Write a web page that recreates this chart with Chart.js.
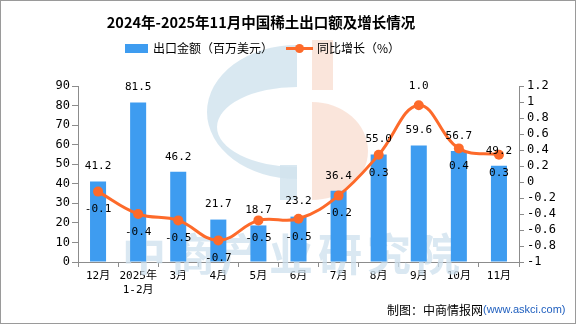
<!DOCTYPE html>
<html>
<head>
<meta charset="utf-8">
<script src="https://cdn.jsdelivr.net/npm/chart.js@4"></script>
<style>
  html, body { margin: 0; padding: 0; background: #fff; }
  #wrap { width: 576px; height: 324px; }
</style>
</head>
<body>
<div id="wrap"><canvas id="myChart" width="576" height="324"></canvas></div>
<script>
// data
const categories = ['12月', ['2025年', '1-2月'], '3月', '4月', '5月', '6月', '7月', '8月', '9月', '10月', '11月']
const exportValues = [41.2, 81.5, 46.2, 21.7, 18.7, 23.2, 36.4, 55.0, 59.6, 56.7, 49.2]
const growthRates = [-0.12, -0.40, -0.48, -0.73, -0.48, -0.46, -0.17, 0.34, 0.96, 0.42, 0.34]
const leftTicks = { min: 0, max: 90, step: 10 }
const rightTicks = { min: -1, max: 1.2, step: 0.2 }

const BAR = '#3e9cf0'
const LINE = '#fd6a2a'
const AXIS = '#8c8c8c'
const CJK = '"Noto Sans CJK SC", sans-serif'
const NUM = '"DejaVu Sans Mono", "Noto Sans CJK SC", monospace'

// faint logo + company name behind the plot
const watermark = {
    id: 'watermark',
    beforeDatasetsDraw(chart) {
        const c = chart.ctx
        c.save()
        // blue "C"
        c.beginPath()
        c.rect(190, 30, 107, 180)
        c.clip()
        c.fillStyle = 'rgba(210,228,239,0.85)'
        c.beginPath()
        c.ellipse(297, 112, 90, 67, 0, 0, Math.PI * 2)
        c.ellipse(297, 127, 80, 40, 0, 0, Math.PI * 2)
        c.fill('evenodd')
        c.restore()
        c.save()
        c.fillStyle = 'rgba(210,228,239,0.85)'
        c.fillRect(280, 165, 17, 35)
        // peach half disc
        c.fillStyle = 'rgba(250,226,215,0.9)'
        c.fillRect(312, 40, 21, 50)
        c.beginPath()
        c.ellipse(312, 151, 56, 49, 0, -Math.PI / 2, Math.PI / 2)
        c.closePath()
        c.fill()
        // company name
        c.fillStyle = 'rgba(205,224,237,0.75)'
        c.font = 'bold 44px ' + CJK
        c.textAlign = 'center'
        c.textBaseline = 'middle'
        const name = '中商产业研究院'
        for (let i = 0; i < name.length; i++) {
            c.fillText(name[i], 144 + i * 49, 254)
        }
        c.restore()
    }
}

// value labels, title, legend, footer, frame
const decorations = {
    id: 'decorations',
    afterDatasetsDraw(chart) {
        const c = chart.ctx
        c.save()
        c.fillStyle = '#000'
        c.textAlign = 'center'
        c.textBaseline = 'middle'
        c.font = '11px ' + NUM
        chart.getDatasetMeta(1).data.forEach((bar, i) => {
            c.fillText(exportValues[i].toFixed(1), bar.x, bar.y - 15)
        })
        chart.getDatasetMeta(0).data.forEach((pt, i) => {
            const dy = i === 8 ? -19 : 18
            c.fillText(growthRates[i].toFixed(1), pt.x, pt.y + dy)
        })
        c.restore()
    },
    afterDraw(chart) {
        const c = chart.ctx
        c.save()
        c.fillStyle = '#000'
        c.textBaseline = 'middle'
        c.textAlign = 'center'
        c.font = 'bold 14.5px ' + CJK
        c.fillText('2024年-2025年11月中国稀土出口额及增长情况', 261, 22)

        c.textAlign = 'left'
        c.font = '12px ' + CJK
        c.fillStyle = BAR
        c.fillRect(125, 44, 23, 9)
        c.fillStyle = '#000'
        c.fillText('出口金额（百万美元）', 153, 48.5)
        c.strokeStyle = LINE
        c.lineWidth = 3
        c.beginPath()
        c.moveTo(286, 48.5)
        c.lineTo(313, 48.5)
        c.stroke()
        c.fillStyle = LINE
        c.beginPath()
        c.arc(299.5, 48.5, 4.5, 0, Math.PI * 2)
        c.fill()
        c.fillStyle = '#000'
        c.fillText('同比增长（%）', 317, 48.5)

        c.font = '12px ' + CJK
        c.fillText('制图：中商情报网', 387, 310)
        c.fillStyle = '#1f5fbf'
        c.font = '11px "Liberation Sans", sans-serif'
        c.fillText('(www.askci.com)', 483, 310)

        c.strokeStyle = '#9a9a9a'
        c.lineWidth = 1
        c.strokeRect(0.5, 0.5, 575, 323)
        c.restore()
    }
}

const ctx = document.getElementById('myChart').getContext('2d')
const myChart = new Chart(ctx, {
    type: 'bar',
    data: {
        labels: categories,
        datasets: [{
            type: 'line',
            label: '同比增长（%）',
            data: growthRates,
            yAxisID: 'y1',
            borderColor: LINE,
            backgroundColor: LINE,
            borderWidth: 3,
            tension: 0.4,
            pointRadius: 5,
            pointBorderWidth: 0,
            pointBackgroundColor: LINE,
            order: 0,
        }, {
            label: '出口金额（百万美元）',
            data: exportValues,
            yAxisID: 'y',
            backgroundColor: BAR,
            barPercentage: 0.8,
            categoryPercentage: 0.5,
            order: 1,
        }]
    },
    options: {
        responsive: false,
        animation: false,
        devicePixelRatio: 1,
        layout: { padding: { top: 86, left: 0, right: 0, bottom: 0 } },
        plugins: {
            legend: { display: false },
            title: { display: false },
            tooltip: { enabled: false },
        },
        scales: {
            x: {
                afterFit: s => { s.height = 62 },
                border: { color: AXIS, width: 1 },
                grid: { display: true, drawOnChartArea: false, color: AXIS, tickLength: 5, offset: true },
                ticks: { color: '#000', font: { family: NUM, size: 11 }, padding: 3, maxRotation: 0, autoSkip: false },
            },
            y: {
                position: 'left',
                min: leftTicks.min,
                max: leftTicks.max,
                afterFit: s => { s.width = 78 },
                border: { color: AXIS, width: 1 },
                grid: { drawOnChartArea: false, color: AXIS, tickLength: 6 },
                ticks: { stepSize: leftTicks.step, color: '#000', font: { family: NUM, size: 12 }, padding: 2, autoSkip: false },
            },
            y1: {
                position: 'right',
                min: rightTicks.min,
                max: rightTicks.max,
                afterFit: s => { s.width = 57 },
                border: { color: AXIS, width: 1 },
                grid: { drawOnChartArea: false, color: AXIS, tickLength: 5 },
                ticks: {
                    stepSize: rightTicks.step,
                    color: '#000',
                    font: { family: NUM, size: 12 },
                    padding: 3,
                    autoSkip: false,
                    callback: v => String(Number(Number(v).toFixed(1))),
                },
            }
        }
    },
    plugins: [watermark, decorations]
})
</script>
</body>
</html>
